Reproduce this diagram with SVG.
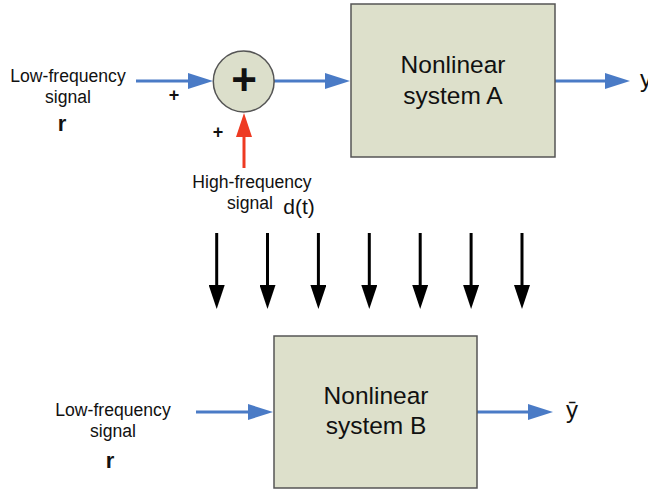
<svg xmlns="http://www.w3.org/2000/svg" width="648" height="489" viewBox="0 0 648 489">
<defs>
<marker id="hb" markerUnits="userSpaceOnUse" markerWidth="26" markerHeight="16" refX="0" refY="8" orient="auto"><path d="M0,0 L25,8 L0,16 z" fill="#4a7bc6"/></marker>
<marker id="hr" markerUnits="userSpaceOnUse" markerWidth="25" markerHeight="16" refX="0" refY="8" orient="auto"><path d="M0,0 L24,8 L0,16 z" fill="#ee3a22"/></marker>
<marker id="hk" markerUnits="userSpaceOnUse" markerWidth="25" markerHeight="16" refX="0" refY="8" orient="auto"><path d="M0,0 L24,8 L0,16 z" fill="#000"/></marker>
</defs>
<style>
text{font-family:"Liberation Sans",Arial,sans-serif;fill:#111}
.lbl{font-size:17.6px;text-anchor:middle}
.box{font-size:24.5px;text-anchor:middle}
.nb{fill:#dde0cb;stroke:#555;stroke-width:1.5}
.b{stroke:#4a7bc6;stroke-width:3;fill:none;marker-end:url(#hb)}
.r{stroke:#ee3a22;stroke-width:3;fill:none;marker-end:url(#hr)}
.k{stroke:#000;stroke-width:3;fill:none;marker-end:url(#hk)}
.bold{font-weight:bold}
</style>
<g id="connectors">
<line class="b" x1="136" y1="81" x2="188" y2="81"/>
<line class="b" x1="274" y1="81" x2="325" y2="81"/>
<line class="b" x1="555" y1="81" x2="605" y2="81"/>
<line class="r" x1="244" y1="168" x2="244" y2="137"/>
<line class="k" x1="216.7" y1="233" x2="216.7" y2="285"/>
<line class="k" x1="267.5" y1="233" x2="267.5" y2="285"/>
<line class="k" x1="318.4" y1="233" x2="318.4" y2="285"/>
<line class="k" x1="369.3" y1="233" x2="369.3" y2="285"/>
<line class="k" x1="420.2" y1="233" x2="420.2" y2="285"/>
<line class="k" x1="471.1" y1="233" x2="471.1" y2="285"/>
<line class="k" x1="522" y1="233" x2="522" y2="285"/>
<line class="b" x1="196" y1="412" x2="248" y2="412"/>
<line class="b" x1="477" y1="412" x2="528" y2="412"/>
</g>
<g id="input-top">
<text class="lbl" x="68" y="82">Low-frequency</text>
<text class="lbl" x="68" y="103">signal</text>
<text class="bold" x="62" y="131" font-size="22" text-anchor="middle">r</text>
<text class="bold" x="174" y="101" font-size="18" text-anchor="middle">+</text>
<text class="bold" x="218" y="138" font-size="18" text-anchor="middle">+</text>
</g>
<g id="sum">
<circle cx="243.7" cy="81.5" r="30.4" fill="#dcdfcb" stroke="#555" stroke-width="1.5"/>
<text class="bold" x="244" y="94.5" font-size="44" text-anchor="middle">+</text>
</g>
<g id="disturbance">
<text class="lbl" x="252" y="188">High-frequency</text>
<text class="lbl" x="250" y="209">signal</text>
<text x="299" y="214" font-size="21" text-anchor="middle">d(t)</text>
</g>
<g id="systemA">
<rect class="nb" x="351" y="4" width="204" height="153"/>
<text class="box" x="453" y="73">Nonlinear</text>
<text class="box" x="453" y="104">system A</text>
</g>
<g id="outA">
<text x="640" y="87" font-size="24">y</text>
</g>
<g id="input-bottom">
<text class="lbl" x="113" y="416">Low-frequency</text>
<text class="lbl" x="113" y="437">signal</text>
<text class="bold" x="110" y="468" font-size="22" text-anchor="middle">r</text>
</g>
<g id="systemB">
<rect class="nb" x="274" y="336" width="203" height="152"/>
<text class="box" x="376" y="404">Nonlinear</text>
<text class="box" x="376" y="434">system B</text>
</g>
<g id="outB">
<text x="566" y="418" font-size="24">ȳ</text>
</g>
</svg>
